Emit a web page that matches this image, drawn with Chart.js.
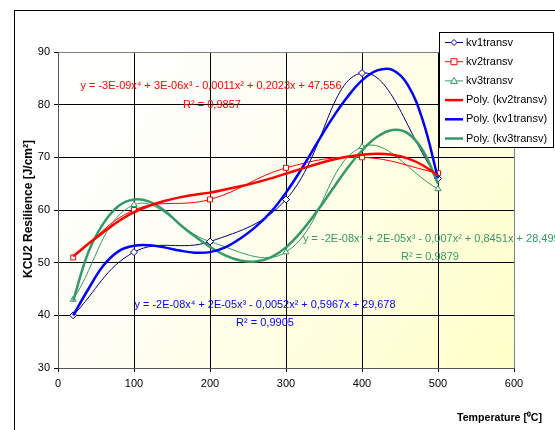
<!DOCTYPE html>
<html>
<head>
<meta charset="utf-8">
<script src="https://cdn.jsdelivr.net/npm/chart.js@4.4.1/dist/chart.umd.min.js"></script>
<style>
  body { margin: 0; background: #fff; }
  #resilience { display: block; }
</style>
</head>
<body>
<canvas id="resilience" width="555" height="430" style="width:555px;height:430px"></canvas>
<script>
// measured points
const temps = [20, 100, 200, 300, 400, 500];
const kv1 = [40, 52, 54, 62, 86, 66];
const kv2 = [51, 60, 62, 68, 70, 67];
const kv3 = [43, 61, 54, 52, 72, 64];

// trend lines
const trendX = [20, 40, 60, 80, 100, 120, 140, 160, 180, 200, 220, 240, 260, 280, 300, 320, 340, 360, 380, 400, 420, 440, 460, 480, 500];
const kv1Trend = [40, 45, 49.5, 52.2, 53.2, 53.3, 52.9, 52.3, 51.9, 52.0, 52.9, 54.6, 56.8, 59.6, 63.3, 67.7, 72.5, 77.2, 81.3, 84.6, 86.5, 86.6, 83.8, 77, 66];
const kv2Trend = [51.2, 53.6, 55.8, 57.9, 59.6, 60.8, 61.7, 62.4, 62.9, 63.3, 63.9, 64.5, 65.2, 66.0, 66.9, 67.8, 68.7, 69.5, 70.1, 70.5, 70.7, 70.5, 69.8, 68.5, 66.5];
const kv3Trend = [42.8, 52, 57.5, 60.8, 62.0, 61.6, 59.9, 57.3, 55.0, 53.0, 51.4, 50.4, 50.2, 51.0, 52.9, 55.9, 59.6, 63.7, 67.8, 71.3, 73.9, 75.2, 74.6, 71.3, 65];

const xTicks = [0, 100, 200, 300, 400, 500, 600];
const yTicks = [30, 40, 50, 60, 70, 80, 90];

const FONT = '"Liberation Sans", Arial, sans-serif';
Chart.defaults.font.family = FONT;
Chart.defaults.font.size = 11;
Chart.defaults.color = '#000';

const toPts = (xs, ys) => xs.map((x, i) => ({ x: x, y: ys[i] }));

// Legend entries: label, colour, width, marker
const legendItems = [
  { text: 'kv1transv', color: '#000080', width: 1, marker: 'diamond' },
  { text: 'kv2transv', color: '#ff0000', width: 1, marker: 'square' },
  { text: 'kv3transv', color: '#339966', width: 1, marker: 'triangle' },
  { text: 'Poly. (kv2transv)', color: '#ff0000', width: 2.5 },
  { text: 'Poly. (kv1transv)', color: '#0000ff', width: 2.5 },
  { text: 'Poly. (kv3transv)', color: '#339966', width: 2.5 }
];

// Trendline equations
const notes = [
  { text: 'y = -3E-09x\u2074 + 3E-06x\u00b3 - 0,0011x\u00b2 + 0,2023x + 47,556', x: 211, y: 86, align: 'center', w: 261, color: '#ff0000' },
  { text: 'R\u00b2 = 0,9857', x: 212, y: 105, align: 'center', w: 59, color: '#ff0000' },
  { text: 'y = -2E-08x\u2074 + 2E-05x\u00b3 - 0,007x\u00b2 + 0,8451x + 28,499', x: 303, y: 239, align: 'left', w: 262, color: '#339966' },
  { text: 'R\u00b2 = 0,9879', x: 430, y: 257, align: 'center', w: 59, color: '#339966' },
  { text: 'y = -2E-08x\u2074 + 2E-05x\u00b3 - 0,0052x\u00b2 + 0,5967x + 29,678', x: 265, y: 305, align: 'center', w: 261, color: '#0000ff' },
  { text: 'R\u00b2 = 0,9905', x: 265, y: 323, align: 'center', w: 58, color: '#0000ff' }
];

function drawMarker(ctx, kind, x, y, color) {
  ctx.save();
  ctx.strokeStyle = color;
  ctx.fillStyle = '#fff';
  ctx.lineWidth = 1;
  ctx.beginPath();
  if (kind === 'diamond') {
    ctx.moveTo(x, y - 3); ctx.lineTo(x + 3, y); ctx.lineTo(x, y + 3); ctx.lineTo(x - 3, y);
  } else if (kind === 'square') {
    ctx.rect(x - 3, y - 3, 6, 6);
  } else {
    ctx.moveTo(x, y - 3.5); ctx.lineTo(x + 3.5, y + 2.5); ctx.lineTo(x - 3.5, y + 2.5);
  }
  ctx.closePath();
  ctx.fill();
  ctx.stroke();
  ctx.restore();
}

const decorPlugin = {
  id: 'decor',
  beforeDraw(chart) {
    const ctx = chart.ctx;
    const a = chart.chartArea;
    ctx.save();
    // outer frame
    ctx.strokeStyle = '#000';
    ctx.lineWidth = 1;
    ctx.strokeRect(14.5, 10.5, 600, 500);
    // plot background
    const g = ctx.createLinearGradient(a.left, a.top, a.right, a.bottom);
    g.addColorStop(0, '#ffffff');
    g.addColorStop(0.35, '#fefef6');
    g.addColorStop(1, '#ffffc8');
    ctx.fillStyle = g;
    ctx.fillRect(a.left, a.top, a.right - a.left, a.bottom - a.top);
    ctx.restore();
  },
  afterDraw(chart) {
    const ctx = chart.ctx;
    ctx.save();
    // equations
    ctx.textBaseline = 'middle';
    ctx.font = '11px ' + FONT;
    notes.forEach(n => {
      ctx.fillStyle = n.color;
      ctx.textAlign = n.align;
      ctx.fillText(n.text, n.x, n.y, n.w);
    });
    // axis titles
    ctx.fillStyle = '#000';
    ctx.font = 'bold 11px ' + FONT;
    ctx.textAlign = 'right';
    ctx.fillText('Temperature [\u2070C]', 542, 418, 85);
    ctx.save();
    ctx.translate(29, 209);
    ctx.rotate(-Math.PI / 2);
    ctx.textAlign = 'center';
    ctx.font = 'bold 12px ' + FONT;
    ctx.fillText('KCU2 Resilience [J/cm\u00b2]', 0, 0, 143);
    ctx.restore();
    // legend
    const lx = 439, ly = 32, lw = 114, lh = 115;
    ctx.fillStyle = '#fff';
    ctx.fillRect(lx, ly, lw, lh);
    ctx.strokeStyle = '#000';
    ctx.lineWidth = 1;
    ctx.strokeRect(lx + 0.5, ly + 0.5, lw, lh);
    ctx.font = '11px ' + FONT;
    ctx.textAlign = 'left';
    legendItems.forEach((it, i) => {
      const y = 42.5 + i * 19.2;
      ctx.strokeStyle = it.color;
      ctx.lineWidth = it.width;
      ctx.beginPath();
      ctx.moveTo(445, y);
      ctx.lineTo(463, y);
      ctx.stroke();
      if (it.marker) drawMarker(ctx, it.marker, 454, y, it.color);
      ctx.fillStyle = '#000';
      ctx.fillText(it.text, 466, y, 83);
    });
    ctx.restore();
  }
};

new Chart(document.getElementById('resilience'), {
  type: 'scatter',
  data: {
    datasets: [
      {
        label: 'Poly. (kv2transv)',
        data: toPts(trendX, kv2Trend),
        showLine: true, borderColor: '#ff0000', borderWidth: 2.5,
        pointRadius: 0, tension: 0.4, order: 0
      },
      {
        label: 'Poly. (kv1transv)',
        data: toPts(trendX, kv1Trend),
        showLine: true, borderColor: '#0000ff', borderWidth: 2.5,
        pointRadius: 0, tension: 0.4, order: 0
      },
      {
        label: 'Poly. (kv3transv)',
        data: toPts(trendX, kv3Trend),
        showLine: true, borderColor: '#339966', borderWidth: 2.5,
        pointRadius: 0, tension: 0.4, order: 0
      },
      {
        label: 'kv1transv',
        data: toPts(temps, kv1),
        showLine: true, borderColor: '#000080', borderWidth: 1, tension: 0.4,
        pointStyle: 'rectRot', pointRadius: 3.5, pointBackgroundColor: '#fff',
        pointBorderColor: '#000080', pointBorderWidth: 1, order: 1
      },
      {
        label: 'kv2transv',
        data: toPts(temps, kv2),
        showLine: true, borderColor: '#ff0000', borderWidth: 1, tension: 0.4,
        pointStyle: 'rect', pointRadius: 3.5, pointBackgroundColor: '#fff',
        pointBorderColor: '#ff0000', pointBorderWidth: 1, order: 1
      },
      {
        label: 'kv3transv',
        data: toPts(temps, kv3),
        showLine: true, borderColor: '#339966', borderWidth: 1, tension: 0.4,
        pointStyle: 'triangle', pointRadius: 3.5, pointBackgroundColor: '#fff',
        pointBorderColor: '#339966', pointBorderWidth: 1, order: 1
      }
    ]
  },
  options: {
    responsive: false,
    animation: false,
    layout: { padding: { left: 0, top: 52, right: 41, bottom: 0 } },
    scales: {
      x: {
        type: 'linear', min: 0, max: 600,
        afterBuildTicks: s => { s.ticks = xTicks.map(v => ({ value: v })); },
        afterFit: s => { s.height = 62; },
        ticks: { color: '#000', padding: 5, font: { size: 11 } },
        grid: {
          color: c => (c.tick && c.tick.value === 600 ? '#808080' : '#000'),
          lineWidth: 1, tickLength: 4, tickColor: '#000'
        },
        border: { color: '#555', width: 1 }
      },
      y: {
        min: 30, max: 90,
        afterBuildTicks: s => { s.ticks = yTicks.map(v => ({ value: v })); },
        afterFit: s => { s.width = 58; },
        ticks: { color: '#000', padding: 4, font: { size: 11 } },
        grid: {
          color: c => (c.tick && c.tick.value === 90 ? '#808080' : '#000'),
          lineWidth: 1, tickLength: 4, tickColor: '#000'
        },
        border: { color: '#555', width: 1 }
      }
    },
    plugins: {
      legend: { display: false },
      tooltip: { enabled: false }
    }
  },
  plugins: [decorPlugin]
});
</script>
</body>
</html>
